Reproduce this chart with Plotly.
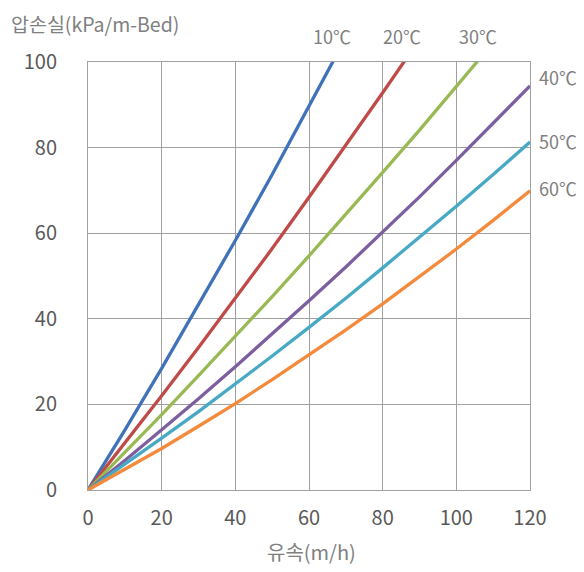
import plotly.graph_objects as go

# flow velocity (m/h)
velocity = [0, 10, 20, 30, 40, 50, 60, 70, 80, 90, 100, 110, 120]

# pressure loss (kPa/m-Bed) per temperature
dp_10 = [0, 14.0, 28.4, 43.2, 58.3, 73.7, 89.6, 105.7, None, None, None, None, None]
dp_20 = [0, 10.9, 22.0, 33.3, 44.7, 56.4, 68.4, 80.5, 92.8, 105.3, None, None, None]
dp_30 = [0, 8.7, 17.6, 26.7, 35.9, 45.2, 54.7, 64.4, 74.2, 84.1, 94.3, 104.5, None]
dp_40 = [0, 6.9, 14.1, 21.3, 28.8, 36.4, 44.2, 52.1, 60.3, 68.5, 77.0, 85.6, 94.4]
dp_50 = [0, 6.0, 12.1, 18.3, 24.7, 31.3, 38.0, 44.8, 51.9, 59.0, 66.3, 73.7, 81.3]
dp_60 = [0, 4.8, 9.7, 14.9, 20.2, 25.8, 31.5, 37.4, 43.5, 49.8, 56.3, 63.0, 69.9]

series_names = ["10℃", "20℃", "30℃", "40℃", "50℃", "60℃"]
series_values = [dp_10, dp_20, dp_30, dp_40, dp_50, dp_60]
colors = ["#3F72B8", "#BE4B48", "#98B954", "#7D5FA0", "#47A9C4", "#F38A3C"]

x_ticks = [0, 20, 40, 60, 80, 100, 120]
y_ticks = [0, 20, 40, 60, 80, 100]

FONT = "Noto Sans CJK KR"

# target pixel geometry of plot area (screen coords)
PX_L, PX_R, PX_T, PX_B = 88, 530, 62, 490


def px_x(px):
    return (px - PX_L) / (PX_R - PX_L)


def px_y(py):
    return (PX_B - py) / (PX_B - PX_T)


fig = go.Figure()
for name, vals, col in zip(series_names, series_values, colors):
    fig.add_trace(go.Scatter(
        x=velocity, y=vals, mode="lines", name=name,
        line=dict(color=col, width=3.3), connectgaps=False,
        hoverinfo="skip",
    ))

label_font = dict(family=FONT, size=18, color="#808080")
label_pos_top = {"10℃": 332, "20℃": 402, "30℃": 478}
for name, px in label_pos_top.items():
    fig.add_annotation(
        text=name, xref="paper", yref="paper",
        x=px_x(px), y=px_y(36),
        showarrow=False, xanchor="center", yanchor="middle",
        font=label_font,
    )
label_pos_right = {"40℃": 77, "50℃": 141, "60℃": 188}
for name, py in label_pos_right.items():
    fig.add_annotation(
        text=name, xref="paper", yref="paper",
        x=px_x(537), y=px_y(py),
        showarrow=False, xanchor="left", yanchor="middle",
        font=label_font,
    )

# axis titles
fig.add_annotation(
    text="압손실(kPa/m-Bed)", xref="paper", yref="paper",
    x=px_x(10), y=px_y(8), borderpad=0,
    showarrow=False, xanchor="left", yanchor="top",
    font=dict(family=FONT, size=19.5, color="#808080"),
)
fig.add_annotation(
    text="유속(m/h)", xref="paper", yref="paper",
    x=px_x(311), y=px_y(551),
    showarrow=False, xanchor="center", yanchor="middle",
    font=dict(family=FONT, size=20, color="#808080"),
)

# page body adds an 8px offset; compensate in margins
fig.update_layout(
    width=584, height=572,
    margin=dict(l=PX_L - 8, r=584 - (PX_R - 8), t=PX_T - 8, b=572 - (PX_B - 8)),
    paper_bgcolor="white", plot_bgcolor="white",
    showlegend=False,
    font=dict(family=FONT, color="#595959"),
)
fig.update_xaxes(
    range=[0, 120], tickvals=x_ticks, ticktext=[str(v) for v in x_ticks],
    showgrid=True, gridcolor="#A0A0A0", gridwidth=1,
    showline=True, linecolor="#A0A0A0", linewidth=1, mirror=True,
    zeroline=False, ticks="outside", ticklen=10, tickcolor="rgba(0,0,0,0)",
    tickfont=dict(family=FONT, size=20, color="#595959"),
)
fig.update_yaxes(
    range=[0, 100], tickvals=y_ticks, ticktext=[str(v) for v in y_ticks],
    showgrid=True, gridcolor="#A0A0A0", gridwidth=1,
    showline=True, linecolor="#A0A0A0", linewidth=1, mirror=True,
    zeroline=False, ticks="outside", ticklen=26, tickcolor="rgba(0,0,0,0)",
    tickfont=dict(family=FONT, size=20, color="#595959"),
)

fig.write_html("out.html")
